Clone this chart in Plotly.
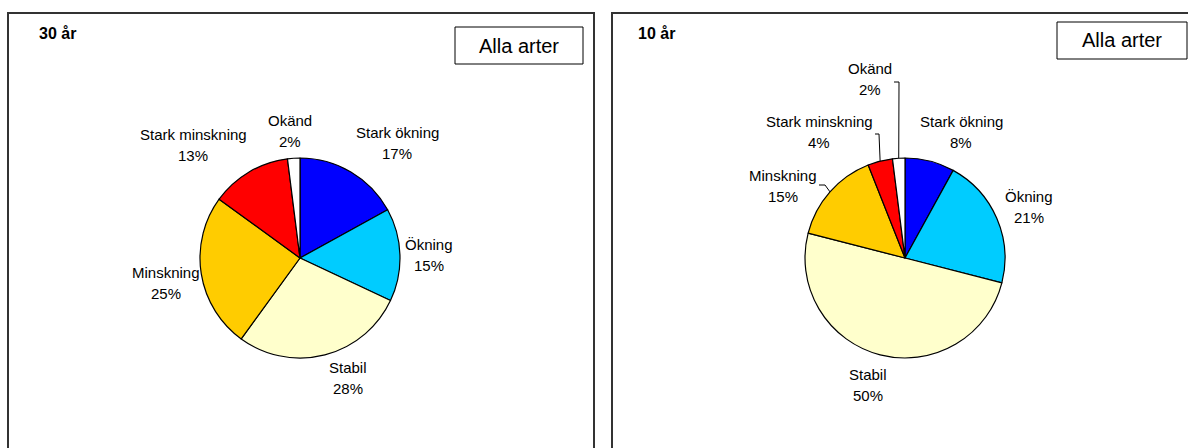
import math
import plotly.graph_objects as go

# Andel arter per trendklass
categories = ["Stark ökning", "Ökning", "Stabil", "Minskning", "Stark minskning", "Okänd"]
share_30 = [17, 15, 28, 25, 13, 2]
share_10 = [8, 21, 50, 15, 4, 2]
slice_colors = ["#0000FF", "#00CCFF", "#FFFFCC", "#FFCC00", "#FF0000", "#FFFFFF"]

W, H = 1188, 448
R = 100  # pie radius in px
FONT = "Arial, Liberation Sans, sans-serif"


def px(x):
    return x / W


def py(y):
    return 1 - y / H


# Panel layout: pie centre, label offsets from centre, leader lines
panels = [
    dict(title="30 år", values=share_30, frame=(8, 13, 594, 460),
         title_pos=(37, 33), tag_box=(455, 27, 583, 64), centre=(300, 258),
         label_offsets=[(97, -115), (129, -3), (48, 120), (-134, 25), (-107, -113), (-10, -127)],
         leaders={}),
    dict(title="10 år", values=share_10, frame=(612, 13, 1200, 460),
         title_pos=(636, 33), tag_box=(1057, 22, 1187, 59), centre=(905, 258),
         label_offsets=[(56, -126), (124, -51), (-37, 127), (-122, -72), (-86, -126), (-35, -179)],
         leaders={3: (36, -1, 6), 4: (56, 2, 4), 5: (24, 3, 5)}),
]

fig = go.Figure()
shapes = []
annotations = []

for p in panels:
    cx, cy = p["centre"]
    fig.add_trace(go.Pie(
        labels=categories,
        values=p["values"],
        sort=False,
        direction="clockwise",
        rotation=0,
        marker=dict(colors=slice_colors, line=dict(color="black", width=1.2)),
        textinfo="none",
        hoverinfo="label+percent",
        showlegend=False,
        domain=dict(x=[px(cx - R), px(cx + R)], y=[py(cy + R), py(cy - R)]),
    ))

    # panel frame
    x0, y0, x1, y1 = p["frame"]
    shapes.append(dict(type="rect", xref="paper", yref="paper",
                       x0=px(x0), x1=px(x1), y0=py(y1), y1=py(y0),
                       line=dict(color="#333333", width=2), fillcolor="rgba(0,0,0,0)"))

    # title
    tx, ty = p["title_pos"]
    annotations.append(dict(x=px(tx), y=py(ty), xref="paper", yref="paper",
                            text="<b>" + p["title"] + "</b>", showarrow=False,
                            xanchor="left", yanchor="middle",
                            font=dict(family=FONT, size=16, color="black")))

    # "Alla arter" tag box
    bx0, by0, bx1, by1 = p["tag_box"]
    shapes.append(dict(type="rect", xref="paper", yref="paper",
                       x0=px(bx0), x1=px(bx1), y0=py(by1), y1=py(by0),
                       line=dict(color="black", width=1), fillcolor="white"))
    annotations.append(dict(x=px((bx0 + bx1) / 2), y=py((by0 + by1) / 2),
                            xref="paper", yref="paper", text="Alla arter",
                            showarrow=False, xanchor="center", yanchor="middle",
                            font=dict(family=FONT, size=20, color="black")))

    # slice labels
    total = sum(p["values"])
    cum = 0
    for i, (name, v) in enumerate(zip(categories, p["values"])):
        mid = (cum + v / 2) / total * 2 * math.pi
        cum += v
        dx, dy = p["label_offsets"][i]
        lx, ly = cx + dx, cy + dy
        annotations.append(dict(x=px(lx), y=py(ly - 10.5), xref="paper", yref="paper",
                                text=name, showarrow=False, xanchor="center", yanchor="middle",
                                font=dict(family=FONT, size=15, color="black")))
        annotations.append(dict(x=px(lx), y=py(ly + 10.5), xref="paper", yref="paper",
                                text=f"{v}%", showarrow=False, xanchor="center", yanchor="middle",
                                font=dict(family=FONT, size=15, color="black")))
        if i in p["leaders"]:
            sx, sy, run = p["leaders"][i]
            ex = cx + R * math.sin(mid)
            ey = cy - R * math.cos(mid)
            s = (lx + sx, ly + sy)
            e = (s[0] + run, s[1])
            path = (f"M {px(s[0])},{py(s[1])} L {px(e[0])},{py(e[1])} "
                    f"L {px(ex)},{py(ey)}")
            shapes.append(dict(type="path", xref="paper", yref="paper", path=path,
                               line=dict(color="black", width=1)))

fig.update_layout(
    width=W, height=H,
    margin=dict(l=0, r=0, t=0, b=0),
    paper_bgcolor="white",
    plot_bgcolor="white",
    shapes=shapes,
    annotations=annotations,
)

fig.write_html("out.html")
